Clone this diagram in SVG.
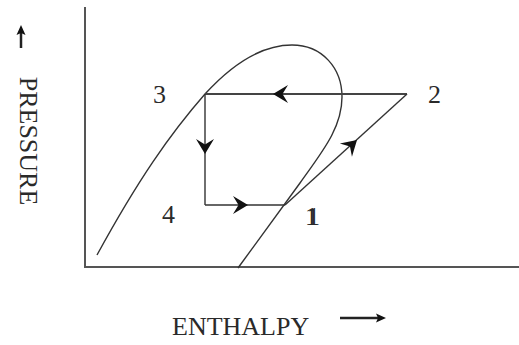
<svg xmlns="http://www.w3.org/2000/svg" width="519" height="345" viewBox="0 0 519 345">
<style>
.ax{stroke:#555;stroke-width:2;fill:none}
.ar{stroke:#222;stroke-width:2.5;fill:none}
.ln{stroke:#333;stroke-width:1.4;fill:none}
.cy{stroke:#444;stroke-width:2;fill:none}
.ah{fill:#111}
.t{font-family:"Liberation Serif","Times New Roman",serif;font-size:26px;fill:#2a2a2a}
</style>
<defs>
<path id="head" d="M0,0 L-15,-9 L-9.5,0 L-15,9 Z"/>
<path id="small" d="M0,0 L-10,-4.5 L-8,0 L-10,4.5 Z"/>
</defs>
<rect width="519" height="345" fill="#fff"/>
<g id="axes">
<line class="ax" x1="85" y1="7" x2="85" y2="267"/>
<line class="ax" x1="84" y1="267" x2="519" y2="267"/>
</g>
<g id="dome">
<path class="ln" d="M97,255 C138,180 170,134 205,94 C236,60 266,45 292,45 C322,45 342,68 342,97 C342,128 322,152 300,183 L238,268"/>
</g>
<g id="connectors">
<line class="cy" x1="205" y1="94" x2="407" y2="94"/>
<line class="ln" x1="205" y1="94" x2="205" y2="205"/>
<line class="ln" x1="205" y1="205" x2="285" y2="205"/>
<line class="ln" x1="285" y1="205" x2="407" y2="94"/>
<use href="#head" class="ah" transform="translate(273,94) rotate(180)"/>
<use href="#head" class="ah" transform="translate(205,154) rotate(90)"/>
<use href="#head" class="ah" transform="translate(248,205)"/>
<use href="#head" class="ah" transform="translate(357,140) rotate(-42.3)"/>
</g>
<g id="node-3"><text class="t" x="153" y="103">3</text></g>
<g id="node-2"><text class="t" x="428" y="103">2</text></g>
<g id="node-4"><text class="t" x="162" y="223">4</text></g>
<g id="node-1"><text class="t" x="305" y="225" letter-spacing="-10">11</text></g>
<g id="y-label">
<line class="ar" x1="21" y1="48" x2="21" y2="32"/>
<use href="#small" class="ah" transform="translate(21,25) rotate(-90)"/>
<text class="t" transform="translate(20,141) rotate(90)" text-anchor="middle">PRESSURE</text>
</g>
<g id="x-label">
<text class="t" x="172" y="335">ENTHALPY</text>
<line class="ar" x1="340" y1="318" x2="378" y2="318"/>
<use href="#small" class="ah" transform="translate(386,318)"/>
</g>
</svg>
